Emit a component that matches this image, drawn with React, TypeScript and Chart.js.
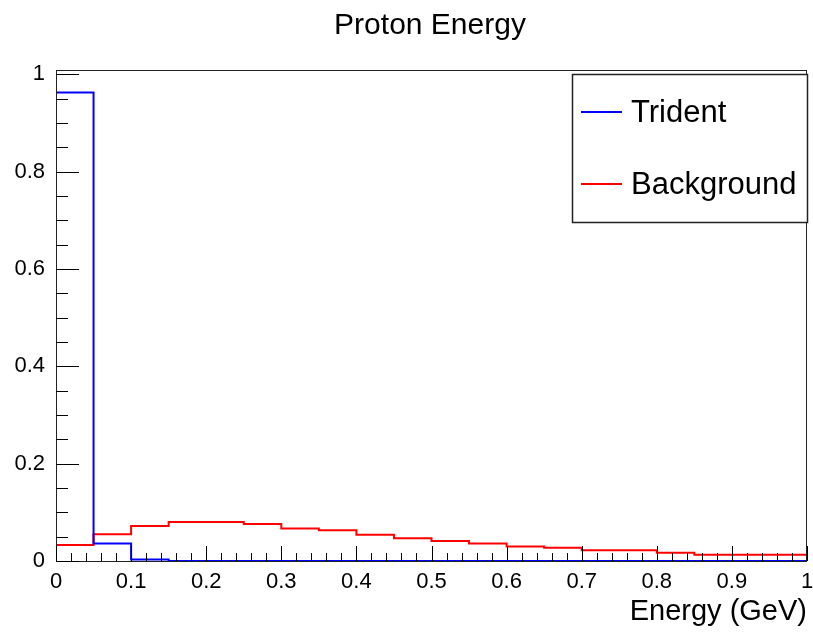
import React, { useEffect, useRef } from "react";
import { Chart, registerables } from "chart.js";

Chart.register(...registerables);

const chartTitle = "Proton Energy";
const xAxisTitle = "Energy (GeV)";
const binStarts = [0, 0.05, 0.1, 0.15, 0.2, 0.25, 0.3, 0.35, 0.4, 0.45, 0.5, 0.55, 0.6, 0.65, 0.7, 0.75, 0.8, 0.85, 0.9, 0.95];
const binEnd = 1;
const tridentValues = [0.963, 0.036, 0.003, 0, 0, 0, 0, 0, 0, 0, 0, 0, 0, 0, 0, 0, 0, 0, 0, 0];
const backgroundValues = [0.033, 0.055, 0.072, 0.080, 0.080, 0.076, 0.067, 0.063, 0.054, 0.047, 0.041, 0.036, 0.030, 0.027, 0.022, 0.022, 0.017, 0.013, 0.013, 0.013];
const seriesLabels = ["Trident", "Background"];
const seriesColors = ["#0000ff", "#ff0000"];
const yMax = 1.009;

const FONT = "'Liberation Sans', Arial, Helvetica, sans-serif";

function toSteps(values: number[]) {
  const pts = binStarts.map((x, i) => ({ x, y: values[i] }));
  pts.push({ x: binEnd, y: values[values.length - 1] });
  return pts;
}

const decorPlugin = {
  id: "rootDecor",
  afterDraw(chart: any) {
    const { ctx, chartArea, scales } = chart;
    const { left, right, top, bottom } = chartArea;
    ctx.save();
    // frame
    ctx.strokeStyle = "#222";
    ctx.lineWidth = 1;
    ctx.strokeRect(left + 0.5, top + 0.5, right - left - 1, bottom - top);
    // ticks
    ctx.strokeStyle = "#000";
    ctx.beginPath();
    for (let i = 0; i <= 50; i++) {
      const v = i * 0.02;
      const px = Math.round(scales.x.getPixelForValue(v)) + 0.5;
      const len = i % 5 === 0 ? 15 : 8;
      ctx.moveTo(px, bottom);
      ctx.lineTo(px, bottom - len);
    }
    for (let i = 0; i <= 20; i++) {
      const v = i * 0.05;
      const py = Math.round(scales.y.getPixelForValue(v)) + 0.5;
      const len = i % 4 === 0 ? 23 : 12;
      ctx.moveTo(left, py);
      ctx.lineTo(left + len, py);
    }
    ctx.stroke();
    // title
    ctx.fillStyle = "#000";
    ctx.font = `30px ${FONT}`;
    ctx.textAlign = "center";
    ctx.textBaseline = "middle";
    ctx.fillText(chartTitle, 430, 26);
    // x axis title
    ctx.font = `29px ${FONT}`;
    ctx.textAlign = "right";
    ctx.textBaseline = "alphabetic";
    ctx.fillText(xAxisTitle, right, 620);
    // legend box
    const lx = 572, ly = 74, lw = right - 572, lh = 148;
    ctx.fillStyle = "#fff";
    ctx.fillRect(lx, ly, lw, lh);
    ctx.strokeStyle = "#222";
    ctx.lineWidth = 1.5;
    ctx.strokeRect(lx + 0.5, ly + 0.5, lw, lh);
    const rows = [112, 184];
    ctx.font = `31px ${FONT}`;
    ctx.textAlign = "left";
    ctx.textBaseline = "middle";
    chart.data.datasets.forEach((ds: any, i: number) => {
      ctx.strokeStyle = ds.borderColor;
      ctx.lineWidth = 2;
      ctx.beginPath();
      ctx.moveTo(581, rows[i]);
      ctx.lineTo(622, rows[i]);
      ctx.stroke();
      ctx.fillStyle = "#000";
      ctx.fillText(ds.label, 631, rows[i] + 1);
    });
    ctx.restore();
  },
};

function fmt(v: number) {
  return String(Math.round(v * 10) / 10);
}

export default function App() {
  const ref = useRef<HTMLCanvasElement | null>(null);
  useEffect(() => {
    if (!ref.current) return;
    const chart = new Chart(ref.current, {
      type: "line",
      data: {
        datasets: [
          {
            label: seriesLabels[0],
            data: toSteps(tridentValues),
            borderColor: seriesColors[0],
            borderWidth: 2,
            pointRadius: 0,
            fill: false,
            stepped: "before",
          },
          {
            label: seriesLabels[1],
            data: toSteps(backgroundValues),
            borderColor: seriesColors[1],
            borderWidth: 2,
            pointRadius: 0,
            fill: false,
            stepped: "before",
          },
        ],
      },
      options: {
        animation: false,
        responsive: false,
        devicePixelRatio: 1,
        layout: { padding: { top: 70, right: 6, left: 0, bottom: 0 } },
        plugins: {
          legend: { display: false },
          title: { display: false },
          tooltip: { enabled: false },
        },
        scales: {
          x: {
            type: "linear",
            min: 0,
            max: 1,
            offset: false,
            grid: { display: false, drawTicks: false },
            border: { display: false },
            ticks: {
              stepSize: 0.1,
              includeBounds: false,
              autoSkip: false,
              maxRotation: 0,
              minRotation: 0,
              padding: 8,
              color: "#000",
              font: { family: FONT, size: 22 },
              callback: (v: any) => fmt(Number(v)),
            },
            afterFit: (s: any) => {
              s.height = 74;
              s.paddingLeft = 0;
              s.paddingRight = 0;
            },
          },
          y: {
            type: "linear",
            min: 0,
            max: yMax,
            grid: { display: false, drawTicks: false },
            border: { display: false },
            ticks: {
              stepSize: 0.2,
              includeBounds: false,
              autoSkip: false,
              padding: 11,
              color: "#000",
              font: { family: FONT, size: 22 },
              callback: (v: any) => fmt(Number(v)),
            },
            afterFit: (s: any) => {
              s.width = 56;
              s.paddingTop = 0;
              s.paddingBottom = 0;
            },
          },
        },
      },
      plugins: [decorPlugin],
    });
    return () => chart.destroy();
  }, []);
  return (
    <div style={{ position: "absolute", left: 0, top: 0, width: 813, height: 635, background: "#fff" }}>
      <canvas ref={ref} width={813} height={635} style={{ display: "block" }} />
    </div>
  );
}
